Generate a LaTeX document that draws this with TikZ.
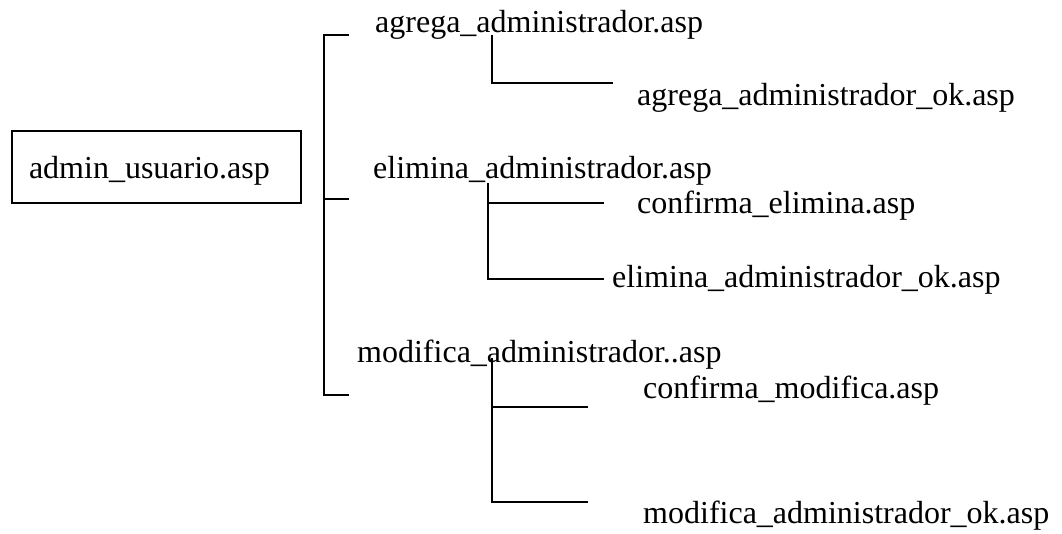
\documentclass[tikz,border=0pt]{standalone}
\usepackage{fontspec}
\setmainfont{Liberation Serif}
\begin{document}
\begin{tikzpicture}[x=1pt,y=-1pt,
  file/.style={anchor=base west,inner sep=0pt,font=\fontsize{32}{38}\selectfont},
  line/.style={draw,line width=1.5pt,-}]
\useasboundingbox (0,0) rectangle (1062,533);
\node[draw,line width=1.5pt,text width=255pt,text height=26pt,text depth=4pt,inner xsep=17pt,inner ysep=0pt,minimum height=72pt,align=left,font=\fontsize{32}{38}\selectfont] (admin) at (156.5,167) {admin\_usuario.asp};
\begin{scope}
\node[file] (agrega) at (375,32) {agrega\_administrador.asp};
\node[file] (elimina) at (373,178) {elimina\_administrador.asp};
\node[file] (modifica) at (357,362) {modifica\_administrador..asp};
\coordinate (t1) at (349,35);
\coordinate (t2) at (349,199);
\coordinate (t3) at (349,395);
\path[line] (t1) -- (324,35) -- (324,395) -- (t3);
\path[line] (t2) -- (324,199);
\end{scope}
\begin{scope}
\node[file] (agregaok) at (637,105) {agrega\_administrador\_ok.asp};
\coordinate (a1) at (492,35);
\coordinate (a2) at (613,83);
\path[line] (a1) |- (a2);
\end{scope}
\begin{scope}
\node[file] (confelim) at (637,213) {confirma\_elimina.asp};
\node[file] (eliminaok) at (612,287) {elimina\_administrador\_ok.asp};
\coordinate (e1) at (488,183);
\coordinate (e2) at (604,203);
\coordinate (e3) at (604,279);
\path[line] (e1) |- (e3);
\path[line] (e1 |- e2) -- (e2);
\end{scope}
\begin{scope}
\node[file] (confmod) at (643,398) {confirma\_modifica.asp};
\node[file] (modificaok) at (643,523) {modifica\_administrador\_ok.asp};
\coordinate (m1) at (492,358);
\coordinate (m2) at (588,407);
\coordinate (m3) at (588,502);
\path[line] (m1) |- (m3);
\path[line] (m1 |- m2) -- (m2);
\end{scope}
\end{tikzpicture}
\end{document}
